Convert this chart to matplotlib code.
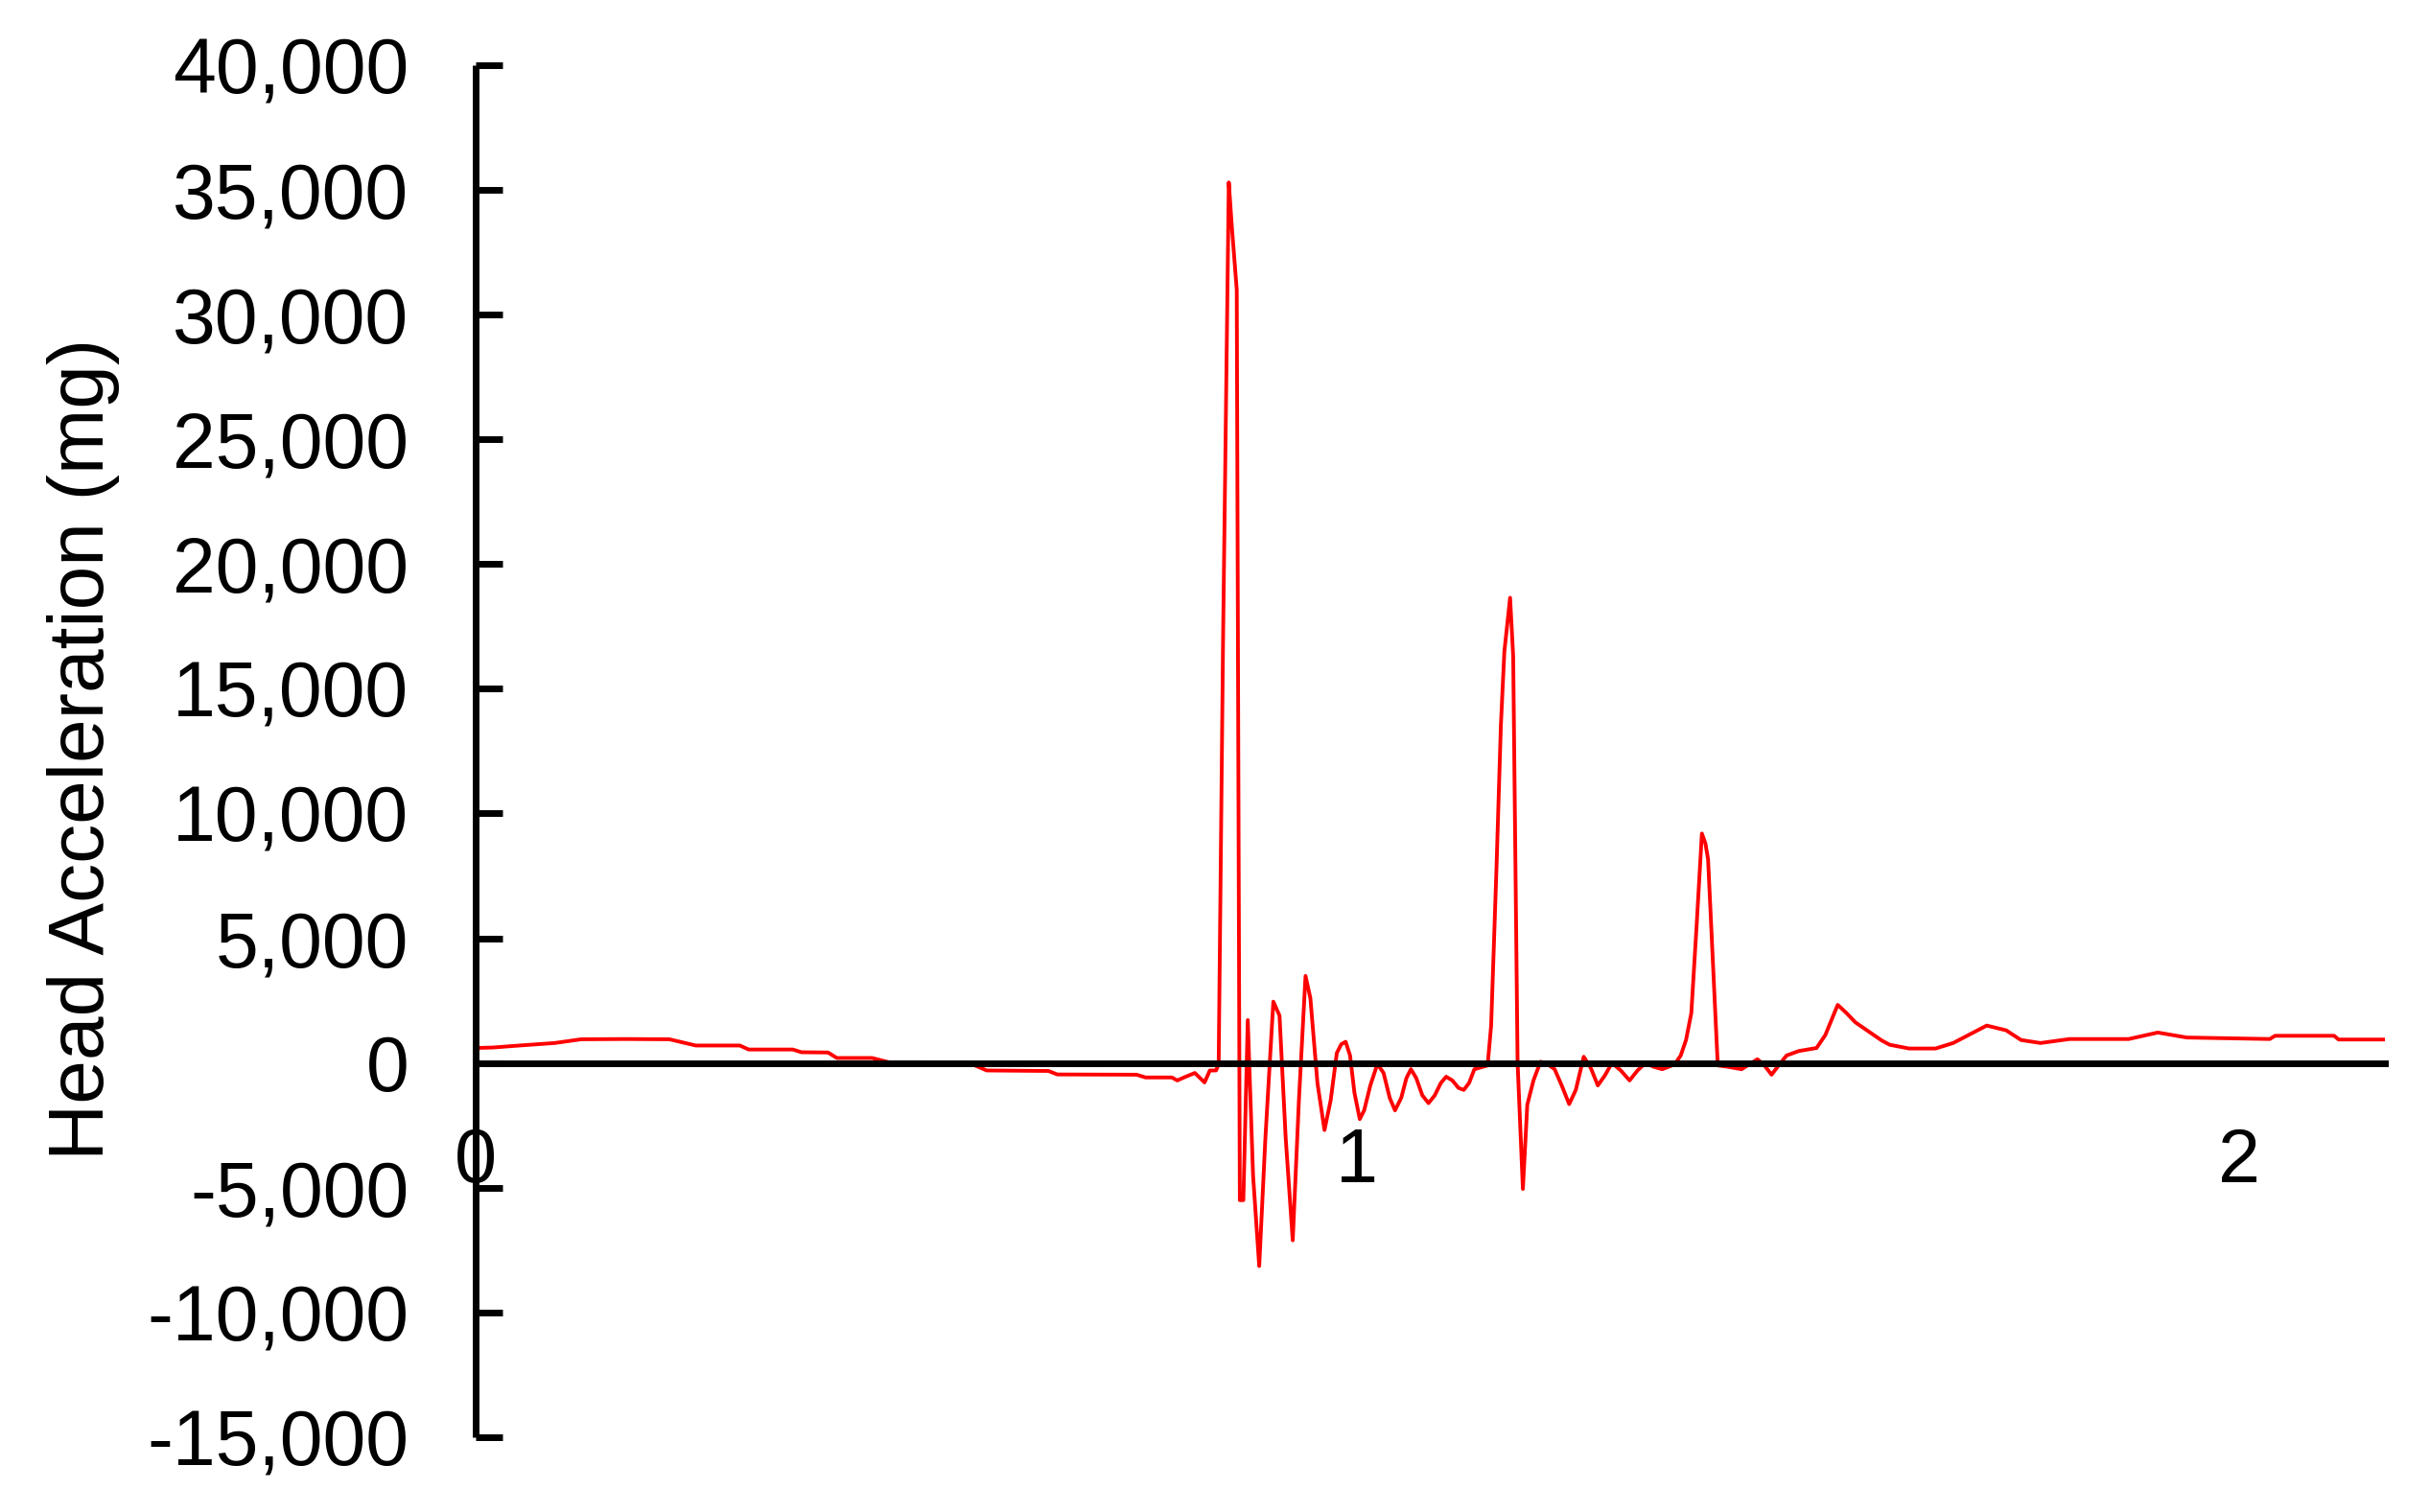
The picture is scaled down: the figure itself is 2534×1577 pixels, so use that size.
import matplotlib
matplotlib.use("Agg")
import matplotlib.pyplot as plt
from matplotlib.ticker import FuncFormatter

TIME = [0.000, 0.020, 0.050, 0.090, 0.120, 0.170, 0.220, 0.250, 0.300, 0.310,
        0.360, 0.370, 0.400, 0.410, 0.450, 0.470, 0.560, 0.580, 0.650, 0.660,
        0.750, 0.760, 0.790, 0.796, 0.805, 0.816, 0.827, 0.833, 0.840, 0.843,
        0.848, 0.8545, 0.858, 0.8635, 0.867, 0.871, 0.876, 0.882, 0.889, 0.896,
        0.905, 0.912, 0.919, 0.927, 0.934, 0.9415, 0.947, 0.955, 0.963, 0.970,
        0.977, 0.982, 0.987, 0.992, 0.997, 1.003, 1.008, 1.015, 1.023, 1.030,
        1.037, 1.043, 1.050, 1.056, 1.061, 1.067, 1.074, 1.081, 1.088, 1.095,
        1.101, 1.108, 1.115, 1.121, 1.127, 1.133, 1.148, 1.152, 1.158, 1.163,
        1.167, 1.1735, 1.177, 1.182, 1.188, 1.193, 1.200, 1.208, 1.216, 1.224,
        1.232, 1.2405, 1.248, 1.257, 1.265, 1.273, 1.281, 1.289, 1.299, 1.309,
        1.318, 1.327, 1.336, 1.346, 1.360, 1.367, 1.373, 1.379, 1.385, 1.391,
        1.395, 1.398, 1.409, 1.420, 1.436, 1.454, 1.462, 1.470, 1.478, 1.487,
        1.501, 1.521, 1.531, 1.545, 1.555, 1.565, 1.581, 1.595, 1.604, 1.626,
        1.656, 1.676, 1.695, 1.714, 1.736, 1.753, 1.775, 1.808, 1.875, 1.908,
        1.941, 2.035, 2.041, 2.108, 2.113, 2.166]

ACCEL = [600, 620, 700, 800, 950, 960, 950, 700, 700, 540,
         540, 430, 420, 200, 200, 20, 0, -300, -320, -460,
         -470, -580, -580, -700, -560, -400, -780, -300, -300, -50,
         17000, 35300, 33500, 31000, -5500, -5500, 1720, -4500, -8140, -3000,
         2460, 1900, -3000, -7110, -1500, 3490, 2600, -800, -2690, -1500,
         400, 750, 850, 300, -1200, -2250, -1900, -900, -40, -400,
         -1400, -1900, -1400, -600, -250, -600, -1300, -1610, -1300, -800,
         -550, -700, -1000, -1080, -800, -250, -100, 1500, 7750, 13500,
         16500, 18650, 16300, 0, -5050, -1670, -700, 50, -50, -250,
         -900, -1650, -1080, 250, -200, -900, -500, 0, -300, -700,
         -300, 0, -150, -250, -60, 300, 920, 2000, 5500, 9200,
         8800, 8170, -100, -150, -250, 150, -100, -470, -100, 300,
         480, 600, 1120, 2330, 2000, 1630, 1240, 900, 730, 580,
         580, 800, 1150, 1500, 1310, 920, 800, 960, 960, 1220,
         1020, 960, 1090, 1090, 940, 940]

X_TICKS = [0, 1, 2]
Y_TICKS = [-15000, -10000, -5000, 0, 5000, 10000, 15000, 20000, 25000, 30000, 35000, 40000]
Y_LABEL = "Head Acceleration (mg)"

plt.rcParams['font.family'] = ['Liberation Sans', 'DejaVu Sans']

fig = plt.figure(figsize=(25.34, 15.77), dpi=100)
ax = fig.add_axes([0.1956, 0.0495, 0.786, 0.9074])

ax.plot(TIME, ACCEL, color='#ff0000', linewidth=2.8, zorder=2,
        solid_joinstyle='round')

ax.set_xlim(0, 2.166)
ax.set_ylim(-15000, 40000)

for s in ['top', 'right']:
    ax.spines[s].set_visible(False)
ax.spines['bottom'].set_position(('data', 0))
ax.spines['bottom'].set_linewidth(5)
ax.spines['left'].set_linewidth(5)
ax.spines['left'].set_capstyle('butt')

ax.set_xticks(X_TICKS)
ax.set_xticklabels([str(v) for v in X_TICKS])
ax.set_yticks(Y_TICKS)
ax.yaxis.set_major_formatter(FuncFormatter(lambda v, p: f"{int(v):,}"))

ax.tick_params(axis='x', length=0, pad=48, labelsize=57)
ax.tick_params(axis='y', direction='in', length=20, width=5, pad=50, labelsize=58)

fig.text(87 / 2534, 1 - 781 / 1577, Y_LABEL, rotation=90, ha='center', va='center',
         fontsize=59)

fig.savefig("out.png", dpi=100, facecolor='white')
